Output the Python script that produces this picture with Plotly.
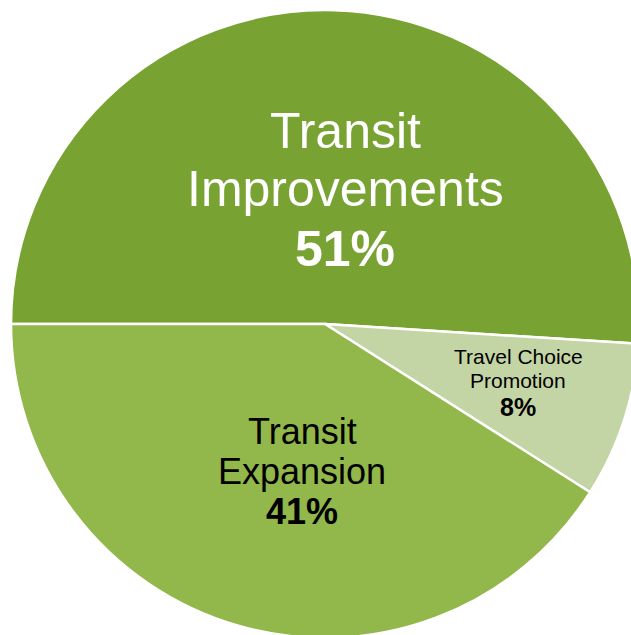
import plotly.graph_objects as go

# Share of program funding by category
categories = ["Transit Improvements", "Travel Choice Promotion", "Transit Expansion"]
shares = [51, 8, 41]
slice_colors = ["#78A231", "#C4D5A5", "#92B74A"]

# Line breaks used when writing each category name on its slice
label_lines = {
    "Transit Improvements": ["Transit", "Improvements"],
    "Travel Choice Promotion": ["Travel Choice", "Promotion"],
    "Transit Expansion": ["Transit", "Expansion"],
}

W, H = 650, 650
cx, cy, r = 325, 324, 314  # pie centre and radius in pixels

fig = go.Figure(
    go.Pie(
        labels=categories,
        values=shares,
        sort=False,
        direction="clockwise",
        rotation=270,
        marker=dict(colors=slice_colors, line=dict(color="white", width=2.5)),
        textinfo="none",
        hoverinfo="label+percent",
        domain=dict(x=[(cx - r) / W, (cx + r) / W], y=[1 - (cy + r) / H, 1 - (cy - r) / H]),
    )
)

# Text placement per slice: centre x, baselines of each line, font sizes, colour
label_style = {
    "Transit Improvements": dict(x=345, base=[147, 205, 265], size=50, pct_size=50, color="white"),
    "Travel Choice Promotion": dict(x=518, base=[363, 387, 415], size=21, pct_size=25, color="black"),
    "Transit Expansion": dict(x=302, base=[443, 483, 523], size=36, pct_size=36, color="black"),
}

font_family = "Liberation Sans, Arial, sans-serif"
annotations = []
for cat, val in zip(categories, shares):
    st = label_style[cat]
    lines = label_lines[cat] + [f"<b>{val}%</b>"]
    for i, (txt, base) in enumerate(zip(lines, st["base"])):
        size = st["pct_size"] if i == len(lines) - 1 else st["size"]
        # place by the vertical middle of the text box (baseline lifted by ~0.32 em)
        ymid = base - 0.32 * size
        annotations.append(
            dict(
                x=st["x"] / W,
                y=1 - ymid / H,
                xref="paper",
                yref="paper",
                xanchor="center",
                yanchor="middle",
                text=txt,
                showarrow=False,
                font=dict(family=font_family, size=size, color=st["color"]),
            )
        )

fig.update_layout(
    width=W,
    height=H,
    margin=dict(l=0, r=0, t=0, b=0),
    paper_bgcolor="white",
    plot_bgcolor="white",
    showlegend=False,
    annotations=annotations,
)

fig.write_html("out.html")
